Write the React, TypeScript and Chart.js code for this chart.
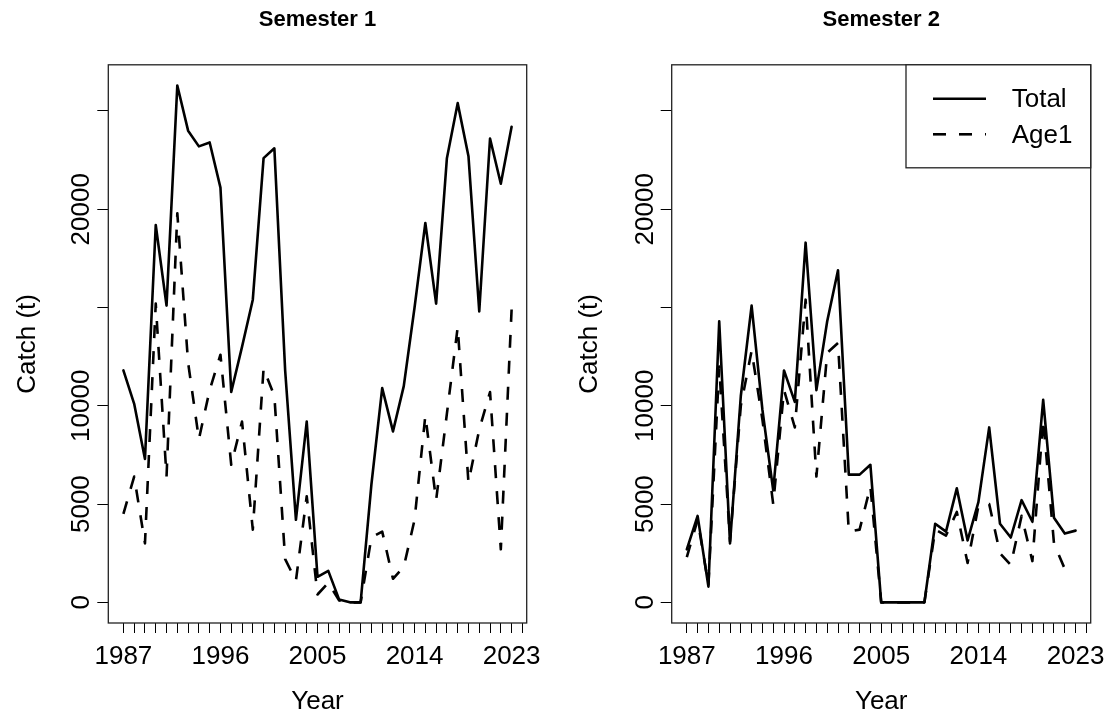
import React, { useEffect, useRef } from 'react';
import { Chart, registerables } from 'chart.js';

Chart.register(...registerables);

// ---------- data ----------
const years = [
  1987, 1988, 1989, 1990, 1991, 1992, 1993, 1994, 1995, 1996, 1997, 1998, 1999,
  2000, 2001, 2002, 2003, 2004, 2005, 2006, 2007, 2008, 2009, 2010, 2011, 2012,
  2013, 2014, 2015, 2016, 2017, 2018, 2019, 2020, 2021, 2022, 2023,
];
const xTickYears = [
  1987, 1988, 1989, 1990, 1991, 1992, 1993, 1994, 1995, 1996, 1997, 1998, 1999,
  2000, 2001, 2002, 2003, 2004, 2005, 2006, 2007, 2008, 2009, 2010, 2011, 2012,
  2013, 2014, 2015, 2016, 2017, 2018, 2019, 2020, 2021, 2022, 2023, 2024,
];
const xLabelYears = [1987, 1996, 2005, 2014, 2023];
const yTickValues = [0, 5000, 10000, 15000, 20000, 25000];
const yLabelValues = [0, 5000, 10000, 20000];

const s1Total = [
  11800, 10100, 7300, 19200, 15100, 26300, 24000, 23200, 23400, 21100, 10700, 13000, 15400,
  22600, 23100, 11800, 4200, 9200, 1300, 1600, 150, 0, 0, 6000, 10900, 8700,
  11000, 15000, 19300, 15200, 22600, 25400, 22700, 14800, 23600, 21300, 24200,
];
const s1Age1 = [
  4500, 6400, 3000, 15200, 6400, 19800, 12200, 8300, 10800, 12600, 7000, 9200, 3700,
  11900, 10500, 2200, 1100, 5400, 400, 1000, 100, 0, 0, 3300, 3600, 1200,
  1800, 4200, 9500, 5200, 9600, 14000, 6100, 8800, 10700, 2700, 14900,
];
const s2Total = [
  2700, 4400, 800, 14300, 3000, 10500, 15100, 9800, 5700, 11800, 10200, 18300, 10800,
  14300, 16900, 6500, 6500, 7000, 0, 0, 0, 0, 0, 4000, 3600, 5800,
  3150, 5100, 8900, 4000, 3300, 5200, 4100, 10300, 4300, 3500, 3650,
];
const s2Age1 = [
  2300, 4200, 900, 12000, 3100, 10000, 12800, 9300, 5000, 10800, 8900, 15400, 6400,
  12700, 13200, 3600, 3700, 5900, 0, 0, 0, 0, 0, 3700, 3400, 4600,
  2000, 4900, 5000, 2500, 1900, 4400, 2100, 9300, 3000, 1700, null,
];
const seriesNames = ['Total', 'Age1'];
const panelTitles = ['Semester 1', 'Semester 2'];

// ---------- styling ----------
const FONT = "'Liberation Sans', Arial, sans-serif";
const DASH = [13, 13];

type PanelCfg = {
  title: string;
  total: (number | null)[];
  age1: (number | null)[];
  left: number;
  yAxisWidth: number;
  padRight: number;
  yLabelX: number;
  yTitlePad: number;
  legend: boolean;
};

const panels: PanelCfg[] = [
  { title: panelTitles[0], total: s1Total, age1: s1Age1, left: 0, yAxisWidth: 108.3, padRight: 29.3, yLabelX: 82, yTitlePad: 12.4, legend: false },
  { title: panelTitles[1], total: s2Total, age1: s2Age1, left: 556, yAxisWidth: 115.7, padRight: 21.3, yLabelX: 90, yTitlePad: 18.4, legend: true },
];

function Panel({ cfg }: { cfg: PanelCfg }) {
  const ref = useRef<HTMLCanvasElement>(null);
  useEffect(() => {
    const canvas = ref.current;
    if (!canvas) return;

    const framePlugin = {
      id: 'frame',
      afterDraw(chart: any) {
        const { ctx, chartArea: a, scales } = chart;
        ctx.save();
        ctx.strokeStyle = '#222';
        ctx.lineWidth = 1.3;
        ctx.strokeRect(a.left, a.top, a.right - a.left, a.bottom - a.top);

        ctx.fillStyle = '#000';
        ctx.font = `26px ${FONT}`;
        ctx.textAlign = 'center';
        ctx.textBaseline = 'middle';
        yLabelValues.forEach((v) => {
          const py = scales.y.getPixelForValue(v);
          ctx.save();
          ctx.translate(cfg.yLabelX, py);
          ctx.rotate(-Math.PI / 2);
          ctx.fillText(String(v), 0, 0);
          ctx.restore();
        });

        if (cfg.legend) {
          const w = 184.7;
          const h = 103;
          const x0 = a.right - w;
          const y0 = a.top;
          ctx.fillStyle = '#fff';
          ctx.fillRect(x0, y0, w, h);
          ctx.strokeStyle = '#222';
          ctx.lineWidth = 1.3;
          ctx.strokeRect(x0, y0, w, h);
          const lineYs = [34, 69.5];
          const textYs = [35.5, 71];
          seriesNames.forEach((name, i) => {
            ctx.beginPath();
            ctx.strokeStyle = '#000';
            ctx.lineWidth = 2.6;
            ctx.setLineDash(i === 1 ? DASH : []);
            ctx.moveTo(a.right - 157.7, y0 + lineYs[i]);
            ctx.lineTo(a.right - 104.7, y0 + lineYs[i]);
            ctx.stroke();
            ctx.setLineDash([]);
            ctx.fillStyle = '#000';
            ctx.font = `26px ${FONT}`;
            ctx.textAlign = 'left';
            ctx.textBaseline = 'middle';
            ctx.fillText(name, a.right - 79, y0 + textYs[i]);
          });
        }
        ctx.restore();
      },
    };

    const chart = new Chart(canvas, {
      type: 'line',
      data: {
        datasets: [
          {
            label: seriesNames[0],
            data: years.map((x, i) => ({ x, y: cfg.total[i] })),
            borderColor: '#000',
            borderWidth: 2.6,
            pointRadius: 0,
            tension: 0,
            borderJoinStyle: 'round',
            borderCapStyle: 'round',
            fill: false,
          },
          {
            label: seriesNames[1],
            data: years.map((x, i) => ({ x, y: cfg.age1[i] })),
            borderColor: '#000',
            borderWidth: 2.6,
            borderDash: DASH,
            pointRadius: 0,
            tension: 0,
            borderJoinStyle: 'round',
            borderCapStyle: 'butt',
            fill: false,
          },
        ],
      } as any,
      options: {
        animation: false,
        responsive: false,
        maintainAspectRatio: false,
        events: [],
        layout: { padding: { left: 0, right: cfg.padRight, top: 0, bottom: 0 } },
        plugins: {
          legend: { display: false },
          tooltip: { enabled: false },
          title: {
            display: true,
            text: cfg.title,
            fullSize: false,
            color: '#000',
            font: { family: FONT, size: 22, weight: 'bold', lineHeight: 1.2 },
            padding: { top: 7, bottom: 31.4 },
          },
        },
        scales: {
          x: {
            type: 'linear',
            min: 1985.6,
            max: 2024.4,
            afterBuildTicks: (s: any) => {
              s.ticks = xTickYears.map((v) => ({ value: v }));
            },
            afterFit: (s: any) => {
              s.height = 97;
            },
            ticks: {
              autoSkip: false,
              minRotation: 0,
              maxRotation: 0,
              padding: 8.4,
              color: '#000',
              font: { family: FONT, size: 26 },
              callback: (v: any) => (xLabelYears.includes(Number(v)) ? String(v) : ''),
            },
            grid: { drawOnChartArea: false, drawTicks: true, tickLength: 10, color: '#000', lineWidth: 1 },
            border: { display: false },
            title: {
              display: true,
              text: 'Year',
              color: '#000',
              font: { family: FONT, size: 26 },
              padding: { top: 0, bottom: 2.4 },
            },
          },
          y: {
            type: 'linear',
            min: -1050,
            max: 27350,
            afterBuildTicks: (s: any) => {
              s.ticks = yTickValues.map((v) => ({ value: v }));
            },
            afterFit: (s: any) => {
              s.width = cfg.yAxisWidth;
            },
            ticks: { display: false },
            grid: { drawOnChartArea: false, drawTicks: true, tickLength: 11, color: '#000', lineWidth: 1 },
            border: { display: false },
            title: {
              display: true,
              text: 'Catch (t)',
              color: '#000',
              font: { family: FONT, size: 26 },
              padding: { top: cfg.yTitlePad, bottom: 0 },
            },
          },
        },
      } as any,
      plugins: [framePlugin],
    });
    return () => chart.destroy();
  }, [cfg]);

  return (
    <div style={{ position: 'absolute', left: cfg.left, top: 0, width: 556, height: 720 }}>
      <canvas ref={ref} width={556} height={720} style={{ display: 'block' }} />
    </div>
  );
}

export default function App() {
  return (
    <div style={{ position: 'absolute', left: 0, top: 0, width: 1112, height: 720, background: '#fff' }}>
      {panels.map((p) => (
        <Panel key={p.title} cfg={p} />
      ))}
    </div>
  );
}
